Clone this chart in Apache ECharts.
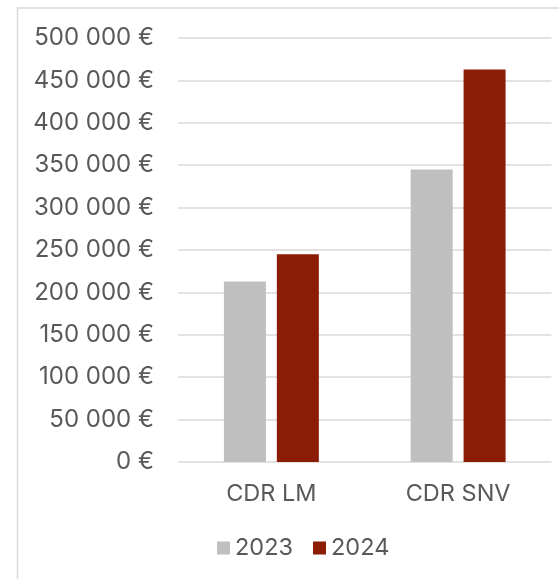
<!DOCTYPE html>
<html>
<head>
<meta charset="utf-8">
<script src="https://cdn.jsdelivr.net/npm/echarts@6/dist/echarts.min.js"></script>
<style>
  html, body { margin: 0; padding: 0; background: #fff; }
  #chart { width: 559px; height: 579px; }
</style>
</head>
<body>
<div id="chart"></div>
<script>
  // data
  const categories = ['CDR LM', 'CDR SNV']
  const values2023 = [213000, 345000]
  const values2024 = [245000, 463000]
  const yTicks = { min: 0, max: 500000, interval: 50000 }

  const textColor = '#595959'
  const font = 'Inter'

  // 500000 -> "500 000 €"
  function euro(v) {
    return String(v).replace(/\B(?=(\d{3})+(?!\d))/g, ' ') + ' €'
  }

  const myChart = echarts.init(document.getElementById('chart'))
  myChart.setOption({
    animation: false,
    backgroundColor: '#fff',
    textStyle: { fontFamily: font },
    graphic: [
      {
        type: 'rect',
        shape: { x: 17.5, y: 8, width: 700, height: 700 },
        style: { fill: 'none', stroke: '#d9d9d9', lineWidth: 1.5 },
        silent: true,
      },
    ],
    grid: { left: 178, right: 7.5, top: 38, bottom: 117 },
    legend: {
      left: 212,
      top: 531,
      icon: 'rect',
      itemWidth: 13,
      itemHeight: 13,
      itemGap: 20,
      textStyle: { color: textColor, fontSize: 23.5, fontFamily: font },
      data: ['2023', '2024'],
    },
    xAxis: {
      type: 'category',
      data: categories,
      axisLine: { show: false },
      axisTick: { show: false },
      axisLabel: { color: textColor, fontSize: 23.5, margin: 20 },
    },
    yAxis: {
      type: 'value',
      min: yTicks.min,
      max: yTicks.max,
      interval: yTicks.interval,
      axisLine: { show: false },
      axisTick: { show: false },
      axisLabel: { color: textColor, fontSize: 24, margin: 24, formatter: euro },
      splitLine: { lineStyle: { color: '#d9d9d9', width: 1.5 } },
    },
    series: [
      {
        name: '2023',
        type: 'bar',
        data: values2023,
        barWidth: 42,
        barGap: '26%',
        itemStyle: { color: '#bfbfbf' },
      },
      {
        name: '2024',
        type: 'bar',
        data: values2024,
        barWidth: 42,
        barGap: '26%',
        itemStyle: { color: '#8b1c06' },
      },
    ],
  })
</script>
</body>
</html>
